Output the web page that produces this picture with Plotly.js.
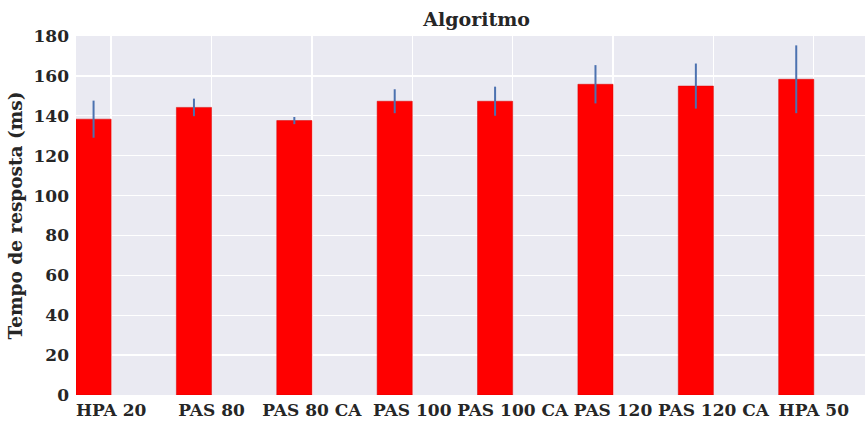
<!DOCTYPE html>
<html>
<head>
<meta charset="utf-8">
<script src="https://cdn.plot.ly/plotly-3.0.1.min.js"></script>
<style>html,body{margin:0;padding:0;background:#fff;}#chart{width:865px;height:421px;}</style>
</head>
<body>
<div id="chart"></div>
<script>
const categories = ["HPA 20", "PAS 80", "PAS 80 CA", "PAS 100", "PAS 100 CA", "PAS 120", "PAS 120 CA", "HPA 50"];
const values = [138.3, 144.2, 137.6, 147.3, 147.3, 155.8, 154.9, 158.3];
const errors = [9.3, 4.4, 1.8, 6.0, 7.3, 9.6, 11.3, 17.0];
const yTicks = [0, 20, 40, 60, 80, 100, 120, 140, 160, 180];

const barWidth = 0.35;
const xs = categories.map((c, i) => i);
const font = "DejaVu Serif";

const trace = {
  type: "bar",
  x: xs,
  y: values,
  width: barWidth,
  offset: 0,
  marker: {color: "#FF0000", line: {color: "#d40000", width: 0.5}},
  error_y: {type: "data", array: errors, visible: true, color: "#4C72B0", thickness: 2, width: 0},
  hoverinfo: "skip"
};

const layout = {
  width: 865, height: 421,
  margin: {l: 76, r: 0, t: 36, b: 26},
  paper_bgcolor: "#ffffff",
  plot_bgcolor: "#EAEAF2",
  showlegend: false,
  font: {family: font, color: "#262626"},
  title: {text: "<b>Algoritmo</b>", font: {family: font, size: 19, color: "#262626"}, x: 0.551, xanchor: "center", y: 0.955, yanchor: "middle"},
  xaxis: {
    range: [0, 7.86],
    tickmode: "array",
    tickvals: xs.map(i => i + barWidth),
    ticktext: categories.map(c => "<b>" + c + "</b>"),
    tickfont: {family: font, size: 17, color: "#262626"},
    ticklabelstandoff: 3,
    showgrid: true, gridcolor: "#ffffff", gridwidth: 1.3,
    zeroline: false, showline: false, ticks: "", ticklen: 0
  },
  yaxis: {
    range: [0, 180],
    tickmode: "array",
    tickvals: yTicks,
    ticktext: yTicks.map(v => "<b>" + v + "</b>"),
    tickfont: {family: font, size: 17, color: "#262626"},
    ticklabelstandoff: 6,
    showgrid: true, gridcolor: "#ffffff", gridwidth: 1.3,
    zeroline: false, showline: false, ticks: "", ticklen: 0,
    title: {text: "<b>Tempo de resposta (ms)</b>", font: {family: font, size: 18.5, color: "#262626"}, standoff: 6}
  }
};

Plotly.newPlot("chart", [trace], layout, {displayModeBar: false, staticPlot: true});
</script>
</body>
</html>
